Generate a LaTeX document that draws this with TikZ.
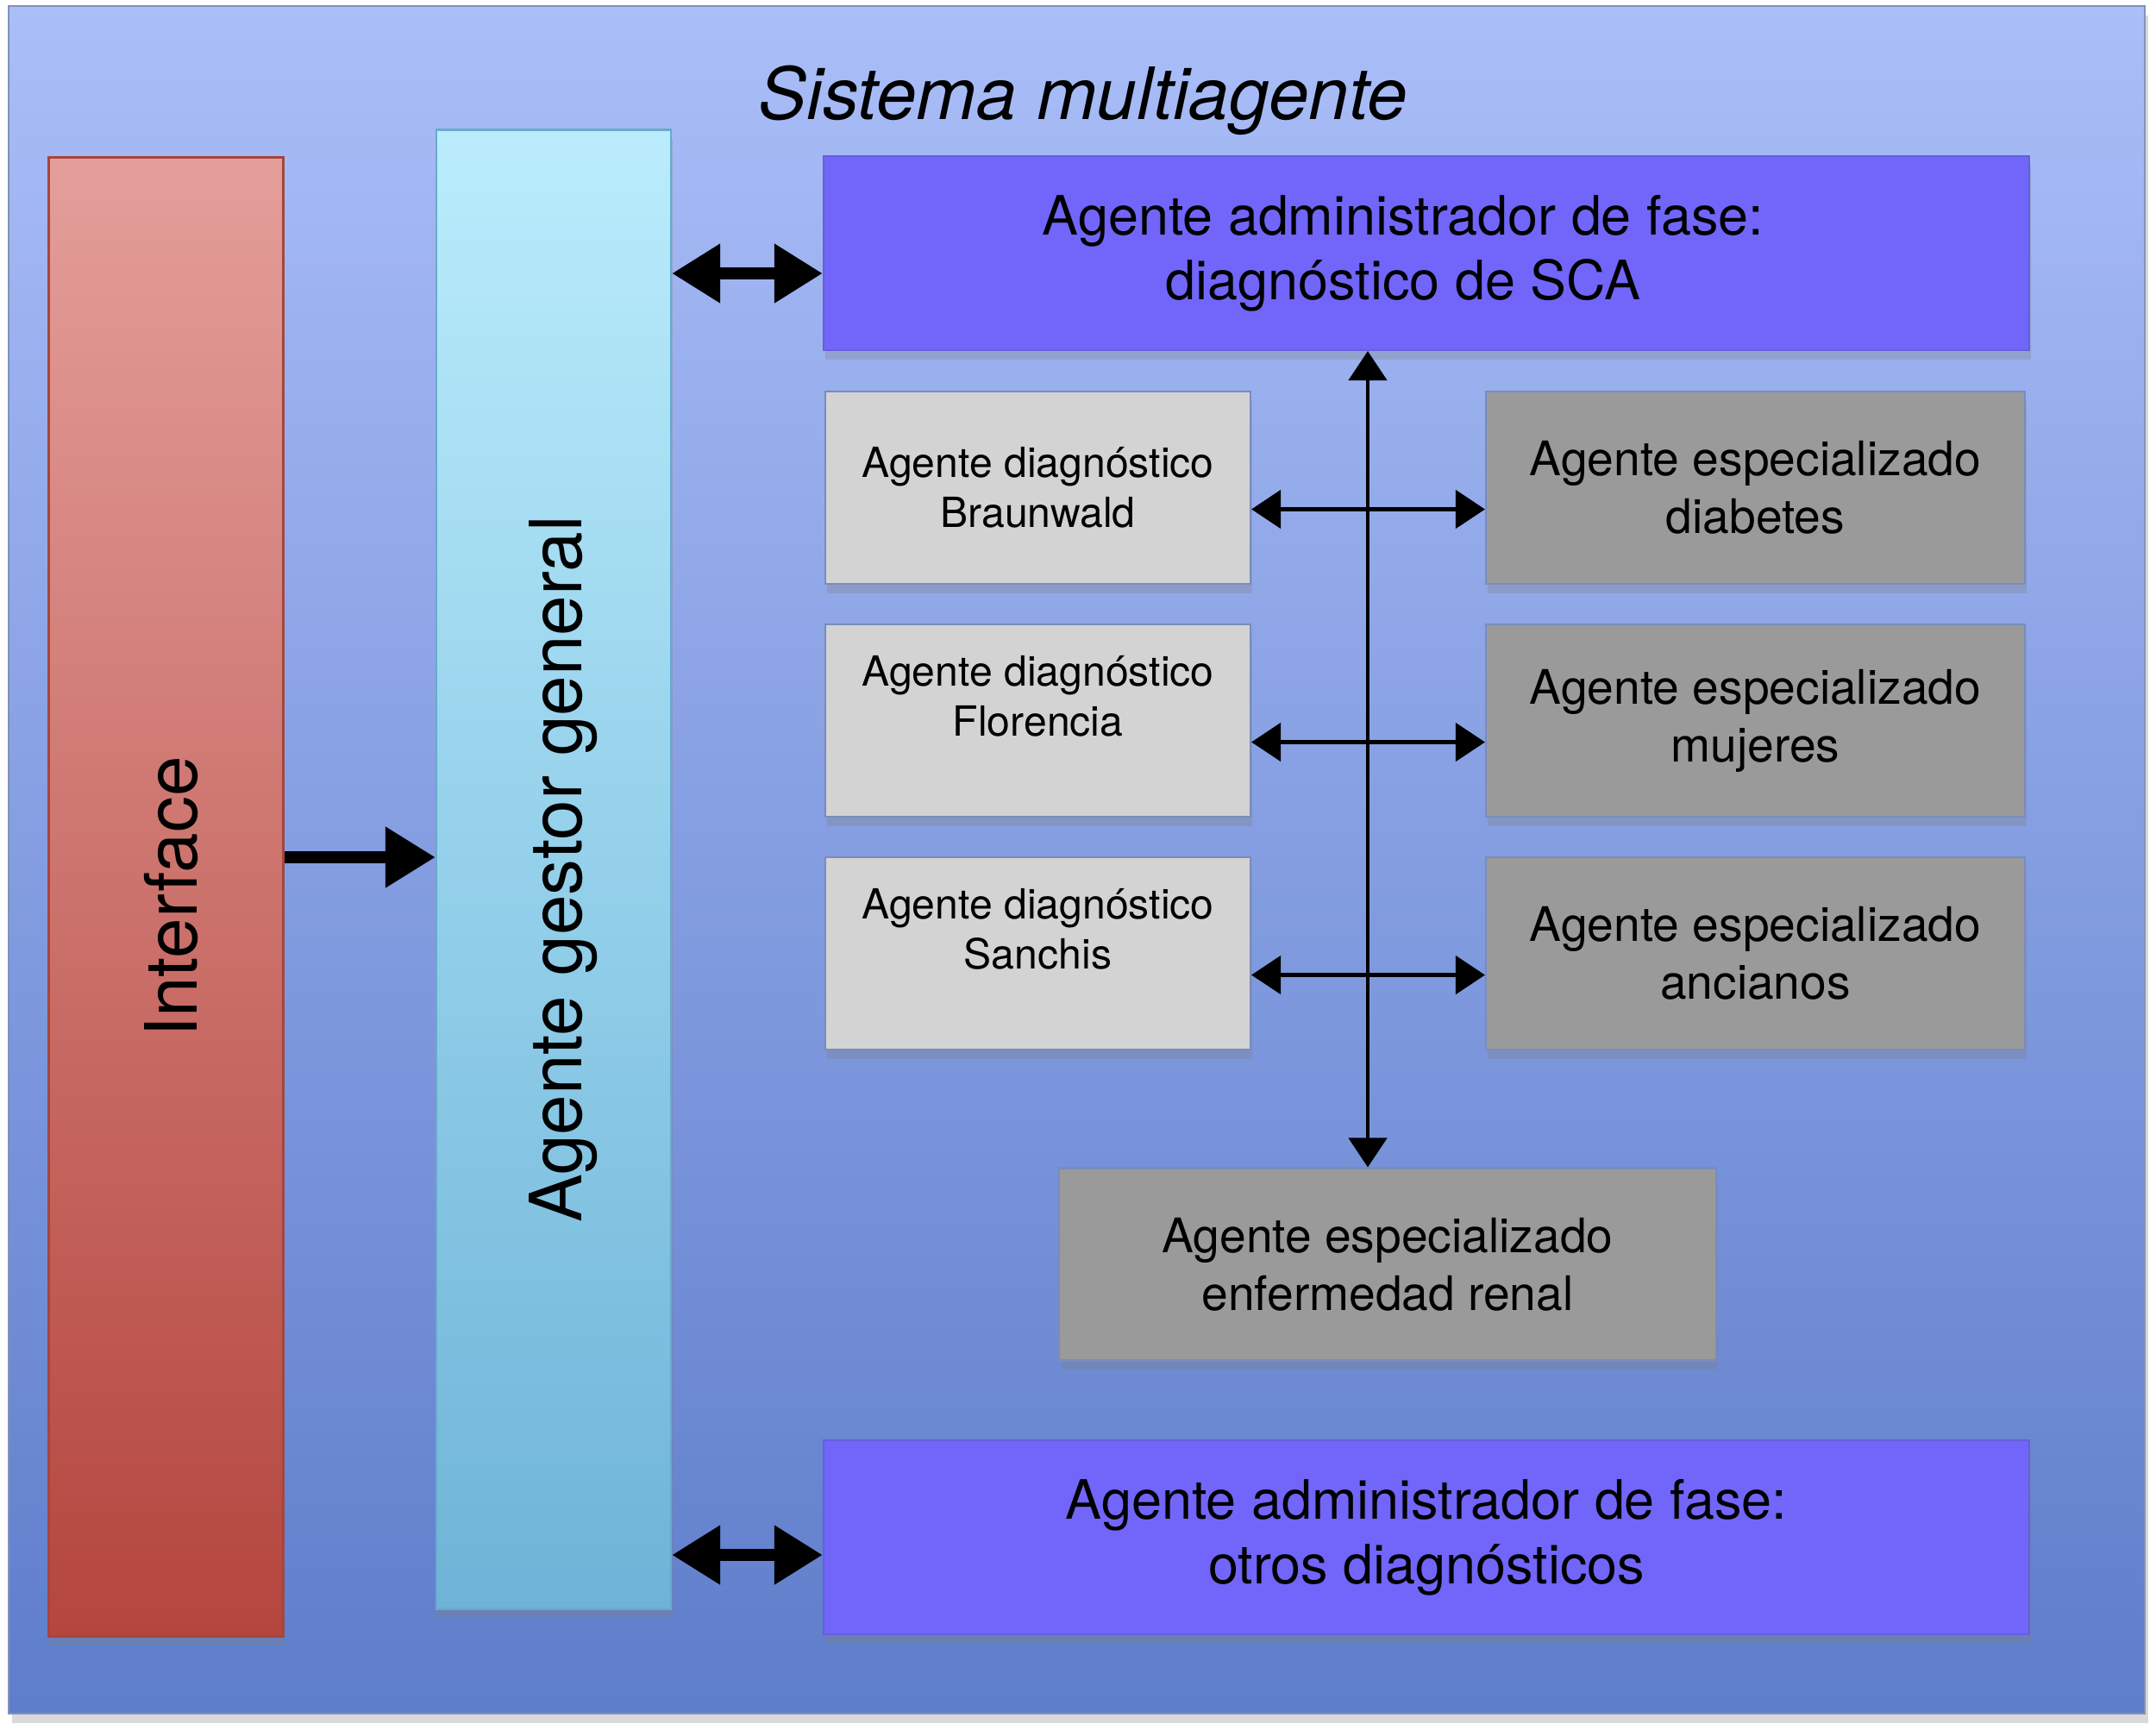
\documentclass[tikz,border=0pt]{standalone}
\usepackage{fontspec}
\setmainfont{TeX Gyre Heros}
\usepackage{graphicx}
\usetikzlibrary{arrows.meta,shadows}
\definecolor{fondoarriba}{RGB}{170,190,248}
\definecolor{fondoabajo}{RGB}{94,125,202}
\definecolor{bordefondo}{RGB}{130,145,185}
\definecolor{rojoarriba}{RGB}{228,158,154}
\definecolor{rojoabajo}{RGB}{180,70,62}
\definecolor{rojoborde}{RGB}{165,70,62}
\definecolor{cianarriba}{RGB}{186,236,252}
\definecolor{cianabajo}{RGB}{110,180,216}
\definecolor{cianborde}{RGB}{105,170,205}
\definecolor{violeta}{RGB}{113,102,249}
\definecolor{violetaborde}{RGB}{100,95,220}
\definecolor{grisclaro}{RGB}{211,211,211}
\definecolor{grisoscuro}{RGB}{154,154,154}
\definecolor{grisborde}{RGB}{120,140,190}

\begin{document}
\begin{tikzpicture}[line join=miter,x=1.0cm,y=1.0cm,
	caja/.style={rectangle,inner sep=0pt,align=center,line width=0.6pt,
		drop shadow={shadow xshift=0.5pt,shadow yshift=-3pt,opacity=0.3}},
	columna/.style={caja,minimum width=2.72cm,minimum height=17.15cm,
		font=\fontsize{23.8}{28}\selectfont},
	fase/.style={caja,draw=violetaborde,fill=violeta,minimum width=13.98cm,minimum height=2.25cm,
		font=\fontsize{17.9}{21.3}\selectfont},
	diagnostico/.style={caja,draw=grisborde,fill=grisclaro,minimum width=4.93cm,minimum height=2.23cm,
		font=\fontsize{13.7}{16.5}\selectfont},
	especial/.style={caja,draw=grisborde,fill=grisoscuro,minimum width=6.25cm,minimum height=2.23cm,
		font=\fontsize{15.7}{19}\selectfont},
	flechagruesa/.style={line width=4pt,-{Triangle[length=5.8mm,width=6.7mm]}},
	dobleflechagruesa/.style={line width=4pt,{Triangle[length=5.6mm,width=6.5mm]}-{Triangle[length=5.6mm,width=6.5mm]}},
	dobleflecha/.style={line width=1.3pt,{Triangle[length=3.4mm,width=4.4mm]}-{Triangle[length=3.4mm,width=4.4mm]}}]
	\useasboundingbox (0,0) rectangle (25,-20.05);
	% fondo del sistema
	\shade[top color=fondoarriba,bottom color=fondoabajo,draw=bordefondo,line width=0.8pt,
		drop shadow={shadow xshift=1pt,shadow yshift=-3pt,opacity=0.3}] (0.10,-0.07) rectangle (24.87,-19.87);
	\node[font=\fontsize{23.8}{28}\selectfont\itshape,anchor=base] (titulo) at (12.56,-1.38) {Sistema multiagente};
	% columnas
	\node[columna,draw=rojoborde,top color=rojoarriba,bottom color=rojoabajo] (iface) at (1.925,-10.40)
		{\rotatebox{90}{\raisebox{-0.6mm}[\height][\depth]{Interface}}};
	\node[columna,draw=cianborde,top color=cianarriba,bottom color=cianabajo] (gestor) at (6.42,-10.08)
		{\rotatebox{90}{\raisebox{-1.1mm}[\height][\depth]{Agente gestor general}}};
	% administradores de fase
	\node[fase] (sca) at (16.54,-2.935) {\hspace*{-5.4mm}Agente administrador de fase:\\\hspace*{-5.4mm}diagnóstico de SCA};
	\node[fase] (otros) at (16.54,-17.825) {Agente administrador de fase:\\otros diagnósticos};
	% agentes de diagnostico y especializados
	\node[diagnostico] (diag1) at (12.035,-5.655) {Agente diagnóstico\\Braunwald};
	\node[diagnostico,text depth=5.8mm] (diag2) at (12.035,-8.355) {Agente diagnóstico\\Florencia};
	\node[diagnostico,text depth=5.8mm] (diag3) at (12.035,-11.055) {Agente diagnóstico\\Sanchis};
	\node[especial] (esp1) at (20.355,-5.655) {Agente especializado\\diabetes};
	\node[especial] (esp2) at (20.355,-8.355) {Agente especializado\\mujeres};
	\node[especial] (esp3) at (20.355,-11.055) {Agente especializado\\ancianos};
	\node[especial,minimum width=7.62cm] (renal) at (16.09,-14.66) {Agente especializado\\enfermedad renal};
	% flechas
	\draw[flechagruesa] ([yshift=4.6mm]iface.east) -- ([yshift=4.6mm]iface.east -| gestor.west);
	\draw[dobleflechagruesa] ([yshift=-2.35mm]sca.west -| gestor.east) -- ([yshift=-2.35mm]sca.west);
	\draw[dobleflechagruesa] ([yshift=-2.05mm]otros.west -| gestor.east) -- ([yshift=-2.05mm]otros.west);
	\coordinate (bus) at ([xshift=-6.8mm]sca.south);
	\draw[dobleflecha] (bus) -- (bus |- renal.north);
	\foreach \i in {1,2,3}
		\draw[dobleflecha] ([yshift=-2.5mm]diag\i.east) -- ([yshift=-2.5mm]esp\i.west);
\end{tikzpicture}
\end{document}
